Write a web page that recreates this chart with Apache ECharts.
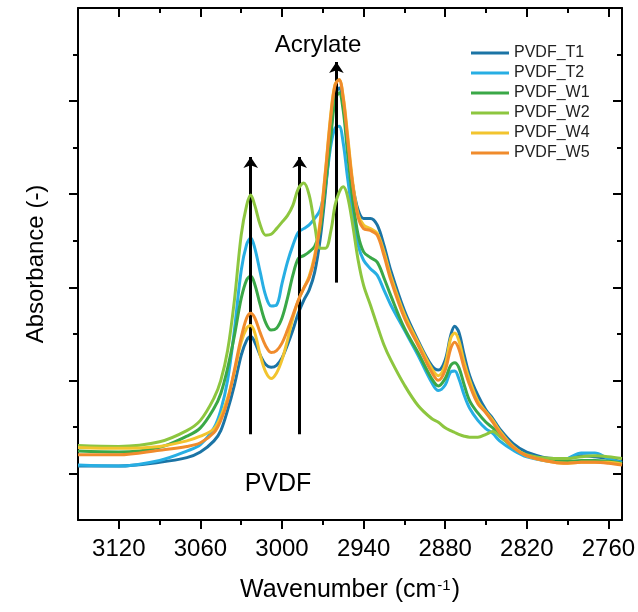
<!DOCTYPE html>
<html>
<head>
<meta charset="utf-8">
<script src="https://cdn.jsdelivr.net/npm/echarts@6/dist/echarts.min.js"></script>
<style>
  html, body { margin: 0; padding: 0; background: #ffffff; }
  #chart { width: 638px; height: 612px; }
</style>
</head>
<body>
<div id="chart"></div>
<script>
// FTIR C-H stretching region, wavenumber in cm^-1
const wavenumbers = [3150, 3120, 3090, 3070, 3060, 3050, 3045, 3040, 3035, 3030,
  3026, 3023, 3020, 3016, 3012, 3008, 3004, 3000, 2996, 2992,
  2988, 2984, 2980, 2976, 2972, 2968, 2964, 2961, 2958, 2955,
  2952, 2948, 2944, 2940, 2935, 2930, 2925, 2920, 2910, 2900,
  2890, 2885, 2880, 2876, 2873, 2870, 2866, 2862, 2856, 2850,
  2845, 2840, 2830, 2820, 2800, 2790, 2780, 2770, 2760, 2750];

// Absorbance (arbitrary units)
const PVDF_T1 = [0.08,0.08,0.12,0.17,0.23,0.35,0.46,0.68,0.95,1.27,
  1.43,1.47,1.41,1.27,1.17,1.14,1.16,1.24,1.38,1.54,
  1.72,1.86,1.97,2.16,2.51,3.04,3.69,4.06,4.14,3.96,
  3.58,3.10,2.83,2.74,2.74,2.67,2.45,2.18,1.75,1.43,
  1.16,1.11,1.22,1.48,1.58,1.52,1.27,1.05,0.84,0.68,
  0.59,0.48,0.32,0.23,0.16,0.16,0.19,0.18,0.16,0.12];
const PVDF_T2 = [0.09,0.08,0.14,0.24,0.31,0.49,0.68,1.00,1.54,2.18,
  2.46,2.53,2.42,2.16,1.91,1.80,1.81,2.04,2.27,2.45,
  2.59,2.63,2.67,2.74,2.83,3.10,3.53,3.71,3.73,3.55,
  3.20,2.77,2.45,2.29,2.20,2.13,1.97,1.81,1.54,1.27,
  0.98,0.89,0.95,1.09,1.10,1.02,0.84,0.70,0.57,0.48,
  0.43,0.35,0.25,0.18,0.13,0.16,0.22,0.22,0.16,0.12];
const PVDF_W1 = [0.24,0.23,0.28,0.40,0.49,0.70,0.86,1.13,1.48,1.88,
  2.08,2.12,2.03,1.81,1.62,1.54,1.56,1.67,1.88,2.13,
  2.31,2.34,2.38,2.44,2.61,3.10,3.63,4.01,4.09,3.90,
  3.47,2.94,2.56,2.38,2.32,2.27,2.10,1.91,1.56,1.30,
  1.02,0.94,1.02,1.16,1.19,1.14,0.95,0.78,0.65,0.55,
  0.49,0.42,0.28,0.20,0.14,0.13,0.14,0.14,0.13,0.11];
const PVDF_W2 = [0.30,0.29,0.34,0.46,0.57,0.81,1.00,1.32,1.86,2.56,
  2.88,2.99,2.88,2.67,2.56,2.57,2.63,2.70,2.77,2.88,
  3.06,3.12,2.99,2.67,2.42,2.42,2.61,2.88,3.02,3.08,
  2.99,2.67,2.29,2.02,1.81,1.59,1.38,1.22,0.95,0.73,
  0.59,0.55,0.49,0.46,0.44,0.42,0.40,0.39,0.39,0.42,
  0.45,0.40,0.28,0.20,0.16,0.16,0.18,0.19,0.18,0.16];
const PVDF_W4 = [0.28,0.27,0.29,0.35,0.40,0.48,0.61,0.81,1.09,1.41,
  1.56,1.59,1.51,1.27,1.09,1.02,1.08,1.22,1.43,1.67,
  1.86,1.99,2.12,2.34,2.70,3.26,3.88,4.18,4.23,4.05,
  3.67,3.13,2.78,2.67,2.63,2.58,2.38,2.12,1.71,1.41,
  1.13,1.05,1.17,1.45,1.51,1.43,1.19,1.00,0.78,0.66,
  0.57,0.46,0.29,0.19,0.12,0.11,0.12,0.12,0.12,0.10];
const PVDF_W5 = [0.20,0.20,0.25,0.29,0.33,0.44,0.57,0.78,1.11,1.46,
  1.67,1.72,1.67,1.51,1.37,1.30,1.32,1.40,1.54,1.70,
  1.86,1.99,2.10,2.31,2.67,3.24,3.85,4.17,4.23,4.03,
  3.63,3.10,2.75,2.63,2.61,2.56,2.34,2.08,1.67,1.38,
  1.09,1.00,1.11,1.34,1.41,1.34,1.13,0.95,0.75,0.65,
  0.55,0.44,0.28,0.19,0.12,0.11,0.12,0.12,0.11,0.09];

const seriesNames = ['PVDF_T1', 'PVDF_T2', 'PVDF_W1', 'PVDF_W2', 'PVDF_W4', 'PVDF_W5'];
const seriesValues = [PVDF_T1, PVDF_T2, PVDF_W1, PVDF_W2, PVDF_W4, PVDF_W5];
const seriesColors = ['#1b74a5', '#27aee3', '#3aa847', '#8dc63f', '#f2c42e', '#f08b2c'];

// Axis ticks
const majorTicksX = [3120, 3060, 3000, 2940, 2880, 2820, 2760];
const minorTicksX = [3090, 3030, 2970, 2910, 2850, 2790];
const majorTicksY = [0, 1, 2, 3, 4];
const minorTicksY = [0.5, 1.5, 2.5, 3.5, 4.5];

// Band markers: wavenumber and absorbance span of each arrow
const arrowWavenumbers = [3023, 2987, 2960];
const arrowFrom = [0.42, 0.42, 2.05];
const arrowTo = [3.40, 3.40, 4.42];

const FONT = 'Arial, "Liberation Sans", Helvetica, sans-serif';
const X_MIN = 2750, X_MAX = 3150, Y_MIN = -0.5, Y_MAX = 5;
const frameLine = { show: true, onZero: false, lineStyle: { color: '#000', width: 2 } };
const noLine = { show: false, onZero: false };
const tickStyle = { color: '#000', width: 2 };

function xAxisDef(position, ticks, len, inside, withLine) {
  return {
    type: 'value', gridIndex: 0, position: position,
    min: X_MIN, max: X_MAX, inverse: true,
    axisLine: withLine ? frameLine : noLine,
    axisTick: { show: true, inside: inside, length: len, customValues: ticks, lineStyle: tickStyle },
    axisLabel: { show: false },
    splitLine: { show: false }
  };
}
function yAxisDef(position, ticks, len, inside, withLine) {
  return {
    type: 'value', gridIndex: 0, position: position,
    min: Y_MIN, max: Y_MAX,
    axisLine: withLine ? frameLine : noLine,
    axisTick: { show: true, inside: inside, length: len, customValues: ticks, lineStyle: tickStyle },
    axisLabel: { show: false },
    splitLine: { show: false }
  };
}

const xMain = xAxisDef('bottom', majorTicksX, 9, false, true);
xMain.axisLabel = {
  show: true, customValues: majorTicksX, fontSize: 24, color: '#000', margin: 17, fontFamily: FONT,
  formatter: (v) => String(v)
};
xMain.name = '{m|Wavenumber (cm}{s|-1}{m|)}';
xMain.nameLocation = 'middle';
xMain.nameGap = 58;
xMain.nameTextStyle = {
  color: '#000', fontFamily: FONT,
  rich: {
    m: { fontSize: 25, color: '#000', fontFamily: FONT },
    s: { fontSize: 15, color: '#000', fontFamily: FONT, verticalAlign: 'top', padding: [0, 1, 10, 1] }
  }
};

const yMain = yAxisDef('left', majorTicksY, 9, false, true);
yMain.name = 'Absorbance (-)';
yMain.nameLocation = 'middle';
yMain.nameGap = 30;
yMain.nameTextStyle = { fontSize: 24, color: '#000', fontFamily: FONT };

const series = seriesNames.map((name, k) => ({
  type: 'line',
  name: name,
  xAxisIndex: 0,
  yAxisIndex: 0,
  data: wavenumbers.map((w, i) => [w, seriesValues[k][i]]),
  smooth: 0.35,
  symbol: 'none',
  lineStyle: { width: 3, color: seriesColors[k] },
  itemStyle: { color: seriesColors[k] },
  z: 2 + k
}));

series.push({
  type: 'line',
  name: 'bands',
  xAxisIndex: 0,
  yAxisIndex: 0,
  data: [],
  z: 20,
  markLine: {
    silent: true,
    animation: false,
    symbol: ['none', 'arrow'],
    symbolSize: 11,
    label: { show: false },
    lineStyle: { color: '#000', width: 3, type: 'solid' },
    emphasis: { disabled: true },
    data: arrowWavenumbers.map((w, i) => [
      { coord: [w, arrowFrom[i]] },
      { coord: [w, arrowTo[i]] }
    ])
  }
});

const chart = echarts.init(document.getElementById('chart'), null, { renderer: 'canvas' });
chart.setOption({
  animation: false,
  backgroundColor: '#ffffff',
  grid: { left: 78, right: 16, top: 8, bottom: 92, containLabel: false, outerBoundsMode: 'none' },
  xAxis: [
    xMain,
    xAxisDef('top', majorTicksX, 9, true, true),
    xAxisDef('bottom', minorTicksX, 5, false, false),
    xAxisDef('top', minorTicksX, 5, true, false)
  ],
  yAxis: [
    yMain,
    yAxisDef('right', majorTicksY, 9, true, true),
    yAxisDef('left', minorTicksY, 5, false, false),
    yAxisDef('right', minorTicksY, 5, true, false)
  ],
  legend: {
    data: seriesNames,
    orient: 'vertical',
    left: 466,
    top: 40,
    icon: 'rect',
    itemWidth: 38,
    itemHeight: 3,
    itemGap: 4,
    textStyle: { fontSize: 16, color: '#222', fontFamily: FONT, lineHeight: 16 }
  },
  graphic: [
    { type: 'text', z: 30, style: { text: 'Acrylate', x: 318, y: 45, align: 'center', verticalAlign: 'middle', textAlign: 'center', textVerticalAlign: 'middle', font: '24px ' + FONT, fill: '#000' } },
    { type: 'text', z: 30, style: { text: 'PVDF', x: 278, y: 484, align: 'center', verticalAlign: 'middle', textAlign: 'center', textVerticalAlign: 'middle', font: '25px ' + FONT, fill: '#000' } }
  ],
  series: series
});
</script>
</body>
</html>
